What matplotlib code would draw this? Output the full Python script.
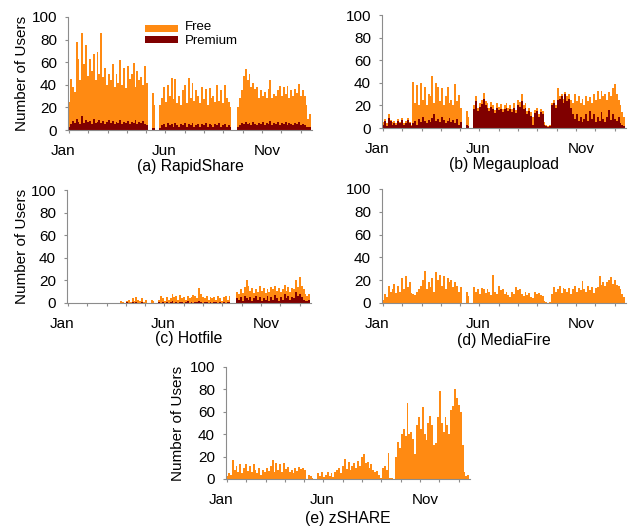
import matplotlib
matplotlib.use('Agg')
import matplotlib.pyplot as plt
from matplotlib.patches import Rectangle

plt.rcParams['font.family'] = ['Liberation Sans', 'DejaVu Sans']

FREE = '#FF8A12'
PREM = '#800000'
AXC = '#8C8C8C'

# ~3-day bins over the year
month_labels = ['Jan', 'Jun', 'Nov']

rs_free = [25,45,38,34,78,63,44,86,58,75,48,63,52,67,44,69,50,86,47,55,40,50,44,58,38,50,42,62,40,55,37,57,45,50,59,38,52,44,47,40,57,42,
           0,0,33,22,0,0,
           22,28,38,25,40,30,46,27,45,24,30,22,35,40,24,46,28,42,26,35,30,24,38,27,36,22,37,28,30,25,40,26,35,24,40,28,25,20,
           0,0,0,
           20,28,35,48,54,44,50,38,42,36,38,28,35,30,34,28,36,44,28,32,30,35,39,30,38,32,39,28,35,30,36,33,41,30,35,30,22,10,14]
rs_prem = [3,5,8,6,10,7,5,12,6,9,7,8,5,10,6,7,9,6,8,5,7,9,6,8,5,7,6,9,5,7,6,8,5,7,6,9,5,7,6,8,5,4,
           0,0,2,2,0,0,
           2,4,5,3,6,4,5,3,6,4,3,5,4,6,3,5,4,6,3,4,5,3,5,4,6,3,5,4,3,5,4,6,3,4,5,3,4,3,
           0,0,0,
           3,4,6,5,7,5,6,4,7,5,4,6,5,7,4,6,5,8,4,6,5,7,4,6,5,7,4,6,5,4,6,5,7,4,5,4,3,3,3]

mu_free = [5,8,4,12,7,5,6,4,8,5,9,4,6,9,5,3,
           41,22,38,20,40,25,36,20,30,28,46,22,40,36,24,35,20,28,36,22,25,20,39,24,29,18,
           0,0,15,10,0,0,
           20,28,18,22,25,31,24,22,18,23,20,16,22,19,21,17,20,22,18,20,17,22,16,25,23,30,20,22,15,18,14,10,16,18,12,17,15,5,
           3,2,3,
           22,25,20,35,28,30,26,32,28,30,25,22,30,24,28,22,26,20,28,24,27,22,30,25,33,26,33,28,30,25,32,28,35,39,30,25,20,14,10]
mu_prem = [3,6,2,9,6,3,4,3,6,4,7,3,4,7,4,2,
           4,6,3,8,5,10,6,4,7,5,9,12,6,8,5,10,7,4,6,9,5,7,4,8,3,5,
           0,0,3,2,0,0,
           17,24,15,19,21,26,20,18,15,19,17,13,18,16,17,14,17,18,15,17,14,18,13,20,19,24,17,18,12,15,11,3,13,15,10,14,12,3,
           2,1,2,
           20,22,18,25,26,28,22,30,24,26,18,12,8,12,6,10,5,8,12,6,15,8,12,5,10,6,14,8,5,10,16,7,12,8,6,10,4,3,2]

hf_free = [0,0,0,0,0,0,0,0,0,0,0,0,0,0,0,0,0,0,0,0,0,0,0,0,0,0,0,0,
           2,1,0,2,3,1,4,2,5,3,2,4,1,3,
           0,0,3,2,0,0,
           3,6,4,2,5,3,4,8,5,6,3,7,4,5,3,6,4,5,7,6,4,13,8,5,4,6,3,5,4,5,3,6,4,2,5,6,3,6,
           0,0,0,
           10,8,12,9,14,20,15,11,13,9,12,10,15,11,13,9,12,10,14,12,15,11,13,10,12,16,11,14,10,13,12,20,14,23,15,12,8,6,8]
hf_prem = [0,0,0,0,0,0,0,0,0,0,0,0,0,0,0,0,0,0,0,0,0,0,0,0,0,0,0,0,
           0,0,0,1,0,0,1,0,1,0,0,1,0,0,
           0,0,0,0,0,0,
           1,0,1,0,1,0,1,2,0,1,0,1,1,0,1,2,0,1,0,1,1,2,1,0,1,1,0,1,0,1,1,0,1,0,1,0,1,1,
           0,0,0,
           4,3,5,2,6,4,3,5,2,4,6,3,5,2,4,3,6,2,5,3,7,4,2,5,3,8,4,6,3,5,4,10,6,8,5,3,2,2,3]

mf_free = [3,8,5,15,10,12,17,9,15,10,22,12,24,14,18,9,8,7,10,12,15,20,28,12,18,14,22,10,27,20,25,15,24,12,22,18,20,14,18,15,10,14,
           0,0,10,6,0,0,
           14,10,12,8,13,12,9,12,10,7,25,10,8,15,11,12,8,10,7,5,10,8,14,11,12,8,6,10,7,9,5,4,10,8,9,7,6,2,
           1,0,1,
           8,14,10,12,15,9,13,12,10,13,8,12,15,10,13,11,19,12,10,15,11,14,9,13,14,24,16,18,15,18,20,23,17,20,16,15,12,8,5]

zs_free = [3,5,4,17,8,12,6,13,5,10,13,7,12,6,13,8,5,10,4,8,6,10,7,12,17,6,14,8,13,6,14,9,11,6,8,5,10,7,11,9,10,8,
           0,4,3,1,0,0,
           5,3,6,2,4,6,3,5,2,6,8,10,5,12,18,9,15,8,12,14,10,16,12,20,22,14,15,10,13,8,6,7,4,1,10,12,8,23,
           1,1,0,
           20,33,28,40,45,38,68,40,42,36,22,48,55,45,64,40,35,50,56,48,30,32,55,79,50,42,55,48,40,62,65,80,72,66,60,30,6,3,4]

W, H = 630, 527
fig = plt.figure(figsize=(W/100, H/100), dpi=100)


def add_ax(left, top, right, bottom):
    return fig.add_axes([left/W, 1-bottom/H, (right-left)/W, (bottom-top)/H])


panels = [
    ((68, 17, 312, 130), rs_free, rs_prem, '(a) RapidShare', True, -0.16, 36),
    ((382, 15, 626, 128), mu_free, mu_prem, '(b) Megaupload', False, None, 36),
    ((67, 190, 311, 303), hf_free, hf_prem, '(c) Hotfile', True, -0.155, 36),
    ((382, 189, 626, 303), mf_free, None, '(d) MediaFire', False, None, 37),
    ((226, 367, 470, 479), zs_free, None, '(e) zSHARE', True, -0.168, 39),
]

label_pos = [-2.6, 50.5, 105.0]
month_ticks = [0.5 + m * 10.16 for m in range(13)]

axes = []
for box, free, prem, title, ylab, ylx, toff in panels:
    ax = add_ax(*box)
    axes.append(ax)
    x = [i + 0.5 for i in range(len(free))]
    ax.bar(x, free, width=1.0, color=FREE, linewidth=0)
    if prem is not None:
        ax.bar(x, prem, width=1.0, color=PREM, linewidth=0)
    ax.set_xlim(0, 128.4)
    ax.set_ylim(0, 100)
    ax.set_yticks([0, 20, 40, 60, 80, 100])
    ax.set_xticks(month_ticks)
    ax.set_xticklabels([])
    for s in ['top', 'right']:
        ax.spines[s].set_visible(False)
    for s in ['left', 'bottom']:
        ax.spines[s].set_color(AXC)
        ax.spines[s].set_linewidth(0.8)
    ax.tick_params(axis='y', length=2.2, width=0.8, color=AXC, pad=5.8,
                   labelsize=11, labelcolor='black')
    ax.tick_params(axis='x', length=2.2, width=0.8, color=AXC)
    for lab, p in zip(month_labels, label_pos):
        ax.annotate(lab, xy=(p, 0), xycoords=('data', 'axes fraction'),
                    xytext=(0, -21), textcoords='offset pixels',
                    ha='center', va='center', fontsize=11,
                    annotation_clip=False)
    ax.annotate(title, xy=(0.5, 0), xycoords='axes fraction',
                xytext=(0, -toff), textcoords='offset pixels',
                ha='center', va='center', fontsize=11.3,
                annotation_clip=False)
    if ylab:
        ax.set_ylabel('Number of Users', fontsize=11)
        ax.yaxis.set_label_coords(ylx, 0.5)

# legend (panel a)
fig.add_artist(Rectangle((145/W, 1-32/H), 33/W, 7/H, transform=fig.transFigure,
                         facecolor=FREE, edgecolor='none'))
fig.add_artist(Rectangle((145/W, 1-43/H), 33/W, 7/H, transform=fig.transFigure,
                         facecolor=PREM, edgecolor='none'))
fig.text(185/W, 1-27/H, 'Free', fontsize=9.5, ha='left', va='center')
fig.text(185/W, 1-41.5/H, 'Premium', fontsize=9.5, ha='left', va='center')

fig.savefig('out.png', dpi=100)
